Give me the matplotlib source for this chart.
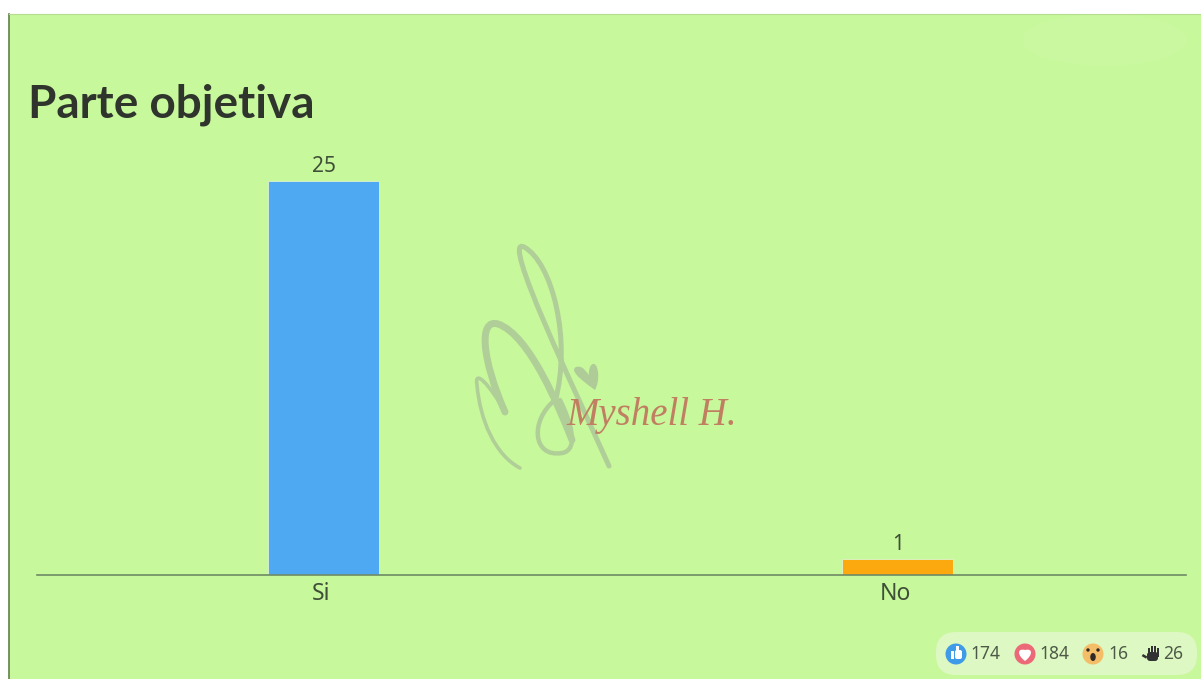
import matplotlib
matplotlib.use("Agg")
import matplotlib.pyplot as plt
from matplotlib.patches import Rectangle, FancyBboxPatch, Circle, Ellipse, PathPatch
from matplotlib.path import Path
from matplotlib.transforms import ScaledTranslation

# ---- data ----
categories = ["Si", "No"]
values = [25, 1]
bar_colors = ["#4FA8F2", "#FBA90F"]
title = "Parte objetiva"
watermark = "Myshell H."
reaction_counts = ["174", "184", "16", "26"]

W, H = 1201, 679
BG = "#C7F89B"
TXT = "#3F4F38"
plt.rcParams["font.family"] = ["Noto Sans", "DejaVu Sans"]

fig = plt.figure(figsize=(W / 100, H / 100), dpi=100, facecolor="white")

# overlay in pixel coordinates for the slide decoration
deco = fig.add_axes([0, 0, 1, 1], zorder=0)
deco.set_xlim(0, W)
deco.set_ylim(H, 0)
deco.axis("off")
deco.add_patch(Rectangle((8.5, 14), W - 8.5, H - 14, fc=BG, ec="none"))
deco.plot([8.5, 8.5], [14, H], color="#5F8048", lw=1.2)
deco.plot([8.5, W], [14, 14], color="#B4DD90", lw=0.8)
deco.add_patch(Ellipse((1105, 40), 165, 52, fc="#CAF8A0", ec="none"))

# watermark strokes
def stroke(verts, lw, col="#B0CE98", z=1):
    codes = [Path.MOVETO] + [Path.CURVE4] * (len(verts) - 1)
    deco.add_patch(PathPatch(Path(verts, codes), fc="none", ec=col, lw=lw,
                             capstyle="round", zorder=z))

stroke([(609, 466), (575, 390), (500, 235), (524, 247),
        (552, 262), (572, 340), (555, 402)], 3.6)
stroke([(505, 412), (482, 360), (478, 318), (498, 324),
        (530, 335), (560, 410), (572, 440)], 5.0)
stroke([(505, 412), (490, 385), (474, 368), (477, 385),
        (480, 420), (495, 455), (520, 468)], 2.6)
stroke([(555, 400), (530, 420), (532, 458), (562, 453),
        (580, 450), (570, 420), (560, 400)], 3.2)
heart = Path([(595, 390), (578, 378), (570, 370), (576, 367), (583, 365), (586, 372), (589, 375),
              (588, 364), (596, 358), (598, 372), (599, 380), (597, 386), (595, 390)],
             [Path.MOVETO] + [Path.CURVE4] * 12)
deco.add_patch(PathPatch(heart, fc="#AECB98", ec="none", zorder=1))
deco.text(566, 425, watermark, fontsize=28, family="Liberation Serif", style="italic",
          color="#C17F62", va="baseline", ha="left", zorder=2)

# title
deco.text(28, 117, title, fontsize=33, family="Lato", fontweight="bold", color="#2F352C",
          va="baseline", ha="left")

# reactions pill
deco.add_patch(FancyBboxPatch((936, 632), 261, 43, boxstyle="round,pad=0,rounding_size=20",
                              fc="#DDF8C2", ec="none"))
deco.add_patch(Circle((956, 654), 10.5, fc="#3F9BE8", ec="none", zorder=3))
deco.add_patch(Rectangle((951, 651), 3, 8, fc="white", ec="none", zorder=4))
deco.add_patch(FancyBboxPatch((955, 650), 7, 9, boxstyle="round,pad=0,rounding_size=2",
                              fc="white", ec="none", zorder=4))
deco.add_patch(Rectangle((956, 646), 2.5, 6, fc="white", ec="none", zorder=4))
deco.add_patch(Circle((1025, 654), 10.5, fc="#EC6A78", ec="none", zorder=3))
h2 = Path([(1025, 661), (1017, 655), (1017, 648), (1025, 650), (1033, 648), (1033, 655), (1025, 661)],
          [Path.MOVETO] + [Path.CURVE4] * 6)
deco.add_patch(PathPatch(h2, fc="white", ec="none", zorder=4))
deco.add_patch(Circle((1093, 654), 10.5, fc="#F4BE68", ec="none", zorder=3))
deco.add_patch(Ellipse((1093, 657), 5.5, 8, fc="#2E2A26", ec="none", zorder=4))
deco.add_patch(Circle((1088, 650), 1.7, fc="#2E2A26", ec="none", zorder=4))
deco.add_patch(Circle((1098, 650), 1.7, fc="#2E2A26", ec="none", zorder=4))
deco.add_patch(FancyBboxPatch((1147, 652), 11, 9, boxstyle="round,pad=0,rounding_size=3",
                              fc="#333333", ec="none", zorder=3))
for fx, fy in [(1148, 648), (1151, 646), (1154, 646), (1157, 648)]:
    deco.add_patch(Rectangle((fx, fy), 2.2, 9, fc="#333333", ec="none", zorder=3))
deco.add_patch(Rectangle((1143, 654), 5, 2.5, angle=30, fc="#333333", ec="none", zorder=3))
for x0, s in zip([970, 1039, 1108, 1163], reaction_counts):
    deco.text(x0, 654, s, fontsize=12.5, color="#4E5A48", va="center", ha="left", zorder=4)

# chart
left, right, base, top = 37, 1186, 575, 140
ax = fig.add_axes([left / W, 1 - base / H, (right - left) / W, (base - top) / H],
                  facecolor="none", zorder=5)
px_per_cat = 574
ax.set_xlim((left - 323) / px_per_cat, (right - 323) / px_per_cat)
ax.set_ylim(0, (base - top) / 15.76)
xs = range(len(categories))
ax.bar(xs, values, width=111 / px_per_cat, color=bar_colors, edgecolor="#DDF3D0", linewidth=0.6)
for x, v in zip(xs, values):
    ax.annotate(str(v), (x, v), xytext=(0.5, 3), textcoords="offset points", ha="center",
                va="bottom", fontsize=15, color=TXT)
for s in ["top", "left", "right"]:
    ax.spines[s].set_visible(False)
ax.spines["bottom"].set_color("#6F8A66")
ax.spines["bottom"].set_linewidth(1.2)
ax.set_yticks([])
ax.set_xticks(list(xs), categories, fontsize=16.5, color=TXT)
ax.tick_params(axis="x", length=0, pad=5)
for lab in ax.get_xticklabels():
    lab.set_transform(lab.get_transform() + ScaledTranslation(-2 / 100, 0, fig.dpi_scale_trans))

fig.savefig("out.png", dpi=100, facecolor="white")
